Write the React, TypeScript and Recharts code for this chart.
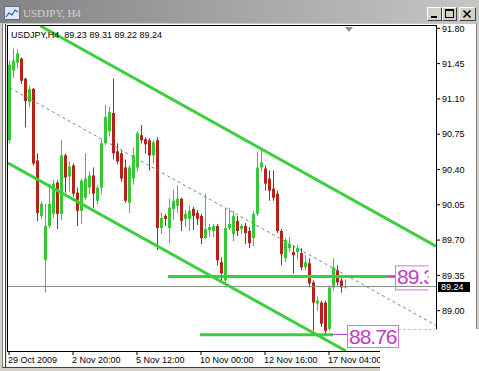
import React from 'react';
import { ComposedChart, Bar, XAxis, YAxis, ReferenceLine } from 'recharts';

const symbol = 'USDJPY';
const period = 'H4';

const opens = [90.69, 91.38, 91.46, 91.50, 91.30, 91.07, 91.20, 90.49, 89.94, 89.50,
  89.84, 89.96, 90.27, 89.96, 90.54, 90.33, 90.44, 90.17, 89.99, 90.12,
  90.22, 90.34, 90.09, 90.22, 90.66, 90.78, 90.96, 90.58, 90.56, 90.42,
  90.07, 90.31, 90.42, 90.74, 90.70, 90.69, 90.54, 90.69, 89.82, 89.94,
  89.82, 90.01, 90.04, 90.11, 89.91, 89.91, 90.01, 89.97, 89.94, 89.72,
  89.80, 89.79, 89.84, 89.48, 89.30, 89.82, 89.76, 89.89, 89.81, 89.84,
  89.79, 89.72, 89.96, 90.42, 90.41, 90.31, 90.21, 90.16, 89.79, 89.52,
  89.62, 89.58, 89.58, 89.57, 89.43, 89.47, 89.28, 89.07, 89.08, 89.08,
  88.82, 89.23, 89.40, 89.30, 89.23];
const highs = [91.48, 91.60, 91.59, 91.51, 91.31, 91.23, 91.21, 90.56, 90.08, 90.06,
  90.26, 90.30, 90.29, 90.69, 90.56, 90.48, 90.46, 90.22, 90.31, 90.56,
  90.38, 90.42, 90.25, 90.70, 91.04, 91.02, 91.30, 90.66, 90.59, 90.50,
  90.44, 90.62, 90.78, 90.84, 90.72, 90.71, 90.69, 90.72, 89.97, 89.96,
  90.11, 90.20, 90.24, 90.12, 90.00, 90.04, 90.03, 90.00, 89.96, 90.16,
  89.86, 89.86, 89.86, 89.53, 90.02, 90.02, 89.99, 89.94, 89.86, 89.87,
  89.83, 89.99, 90.57, 90.59, 90.44, 90.39, 90.39, 90.19, 89.81, 89.72,
  89.73, 89.65, 89.65, 89.62, 89.55, 89.52, 89.30, 89.14, 89.10, 89.10,
  89.25, 89.52, 89.45, 89.33, 89.31];
const lows = [90.66, 91.31, 91.40, 91.25, 90.82, 91.02, 90.44, 89.89, 89.91, 89.18,
  89.82, 89.92, 89.81, 89.90, 90.17, 90.18, 90.13, 89.84, 89.86, 90.10,
  90.16, 90.02, 90.05, 90.16, 90.64, 90.73, 90.50, 90.45, 90.28, 90.07,
  89.97, 90.25, 90.38, 90.66, 90.56, 90.39, 90.46, 89.60, 89.76, 89.84,
  89.67, 89.90, 89.97, 89.79, 89.83, 89.79, 89.80, 89.85, 89.66, 89.71,
  89.73, 89.73, 89.45, 89.28, 89.27, 89.80, 89.69, 89.74, 89.76, 89.66,
  89.62, 89.64, 89.94, 90.38, 90.19, 90.09, 90.09, 89.77, 89.45, 89.48,
  89.58, 89.37, 89.51, 89.40, 89.40, 89.23, 88.80, 89.00, 88.84, 88.76,
  88.80, 89.20, 89.25, 89.18, 89.22];
const closes = [91.44, 91.48, 91.55, 91.28, 91.08, 91.20, 90.46, 89.97, 90.06, 89.84,
  90.06, 90.26, 89.96, 90.54, 90.32, 90.43, 90.16, 89.99, 90.29, 90.31,
  90.34, 90.16, 90.22, 90.66, 90.92, 90.97, 90.56, 90.48, 90.31, 90.09,
  90.42, 90.54, 90.76, 90.69, 90.65, 90.54, 90.67, 89.82, 89.92, 89.91,
  90.02, 90.09, 90.11, 89.89, 89.96, 89.99, 89.94, 89.91, 89.72, 89.81,
  89.83, 89.84, 89.50, 89.37, 89.82, 89.86, 89.94, 89.79, 89.84, 89.77,
  89.67, 89.96, 90.42, 90.47, 90.26, 90.19, 90.12, 89.79, 89.56, 89.70,
  89.66, 89.55, 89.62, 89.43, 89.48, 89.27, 89.08, 89.10, 88.87, 88.80,
  89.23, 89.43, 89.28, 89.23, 89.24];

const timeTicks = [0, 16, 32, 48, 64, 80];
const timeLabels = ['29 Oct 2009', '2 Nov 20:00', '5 Nov 12:00', '10 Nov 00:00', '12 Nov 16:00', '17 Nov 04:00'];
const priceTicks = [91.8, 91.45, 91.1, 90.75, 90.4, 90.05, 89.7, 89.35, 89.0];
const bidPrice = 89.24;

const upperChannel = [{ x: 7.875, y: 91.823 }, { x: 106.75, y: 89.639 }];
const lowerChannel = [{ x: -0.25, y: 90.465 }, { x: 84.25, y: 88.6 }];
const midChannel = [{ x: 0.25, y: 91.208 }, { x: 106.75, y: 88.854 }];
const resistanceLevel = { price: 89.34, from: 39.75, to: 98.5, shown: '89.3' };
const supportLevel = { price: 88.76, from: 47.75, to: 81 };

const X_MIN = -0.25;
const X_MAX = 106.75;
const Y_MIN = 88.6;
const Y_MAX = 91.823;

const W = 479;
const H = 371;
const M_TOP = 26;
const M_LEFT = 8;
const Y_AXIS_W = 43;
const X_AXIS_H = 20;
const PLOT_W = W - M_LEFT - Y_AXIS_W;
const PLOT_H = H - M_TOP - X_AXIS_H;

const BULL = '#36c936';
const BEAR = '#b8201c';
const LINE = '#3ccf3c';
const PINK = '#c23cc2';
const FONT = '"Liberation Sans", Arial, sans-serif';

const data = opens.map((o, i) => ({
  i,
  o,
  h: highs[i],
  l: lows[i],
  c: closes[i],
  range: [lows[i], highs[i]],
}));

const last = data.length - 1;

const Candle = (props: any) => {
  const { x, y, width, height, payload } = props;
  if (x == null || y == null || !payload) return null;
  const { o, h, l, c } = payload;
  const top = Math.min(y, y + height);
  const hgt = Math.abs(height);
  const ppu = hgt / (h - l || 1);
  const cx = Math.round(x + width / 2);
  const bodyTop = top + (h - Math.max(o, c)) * ppu;
  const bodyH = Math.max(1, Math.abs(o - c) * ppu);
  const col = c >= o ? BULL : BEAR;
  return (
    <g>
      <rect x={cx} y={top} width={1} height={Math.max(1, hgt)} fill={col} />
      <rect x={cx - 1} y={bodyTop} width={3} height={bodyH} fill={col} />
    </g>
  );
};

const TimeTick = (props: any) => {
  const { x, y, payload } = props;
  const idx = timeTicks.indexOf(payload.value);
  return (
    <text x={x - 1} y={y} dy="0.71em" fontSize={9} fill="#000" fontFamily={FONT} textAnchor="start">
      {idx >= 0 ? timeLabels[idx] : ''}
    </text>
  );
};

const BidLabel = (props: any) => {
  const vb = props.viewBox;
  if (!vb) return null;
  const xr = vb.x + vb.width;
  const yc = vb.y;
  return (
    <g>
      <rect x={xr + 2} y={yc - 4.5} width={32} height={10} fill="#000" />
      <text x={xr + 5} y={yc + 4} fontSize={9} fill="#fff" fontFamily={FONT}>
        {bidPrice.toFixed(2)}
      </text>
    </g>
  );
};

const ResistanceLabel = (props: any) => {
  const vb = props.viewBox;
  if (!vb) return null;
  const xr = vb.x + vb.width;
  const yc = vb.y;
  return (
    <g>
      <defs>
        <clipPath id="res-clip">
          <rect x={xr} y={yc - 14} width={33.5} height={30} />
        </clipPath>
      </defs>
      <line x1={xr - 8} y1={yc} x2={xr} y2={yc} stroke={PINK} strokeWidth={1} />
      <g clipPath="url(#res-clip)">
        <rect x={xr + 0.5} y={yc - 10.5} width={48} height={24} fill="none" stroke="#d27ad2" />
        <text x={xr + 2} y={yc + 8} fontSize={21} letterSpacing={-1} fill={PINK} fontFamily={FONT}>
          {resistanceLevel.shown}
        </text>
      </g>
    </g>
  );
};

const pxX = (i: number) => M_LEFT + ((i - X_MIN) / (X_MAX - X_MIN)) * PLOT_W;
const pxY = (p: number) => M_TOP + ((Y_MAX - p) / (Y_MAX - Y_MIN)) * PLOT_H;

const abs = (s: React.CSSProperties): React.CSSProperties => ({ position: 'absolute', boxSizing: 'border-box', ...s });

const WinButton = ({ left, width, kind }: { left: number; width: number; kind: string }) => (
  <div
    style={abs({
      left,
      top: 7,
      width,
      height: 14,
      background: '#d4d0c8',
      borderStyle: 'solid',
      borderWidth: 1,
      borderColor: '#ffffff #404040 #404040 #ffffff',
    })}
  >
    <svg width={width - 2} height={12} style={{ position: 'absolute', left: 0, top: 0 }}>
      {kind === 'min' && <rect x={3} y={8} width={6} height={2} fill="#000" />}
      {kind === 'max' && (
        <g>
          <rect x={2.5} y={1.5} width={8} height={8} fill="none" stroke="#000" />
          <rect x={2} y={1} width={9} height={2} fill="#000" />
        </g>
      )}
      {kind === 'close' && (
        <g stroke="#000" strokeWidth={1.6}>
          <line x1={3.5} y1={2.5} x2={10.5} y2={9.5} />
          <line x1={10.5} y1={2.5} x2={3.5} y2={9.5} />
        </g>
      )}
    </svg>
  </div>
);

export default function App() {
  const supY = pxY(supportLevel.price);
  const supX = pxX(supportLevel.to);
  return (
    <div style={abs({ left: 0, top: 0, width: W, height: H, background: '#d4d0c8', overflow: 'hidden', fontFamily: FONT })}>
      {/* title bar */}
      <div style={abs({ left: 0, top: 0, width: W, height: 23, background: 'linear-gradient(90deg, #838383 0%, #a9a9a9 55%, #c6c6c6 100%)' })} />
      <div style={abs({ left: 4, top: 6, width: 16, height: 14, background: '#dfe8f4', border: '1px solid #5a6f93' })}>
        <svg width={14} height={12} style={{ position: 'absolute', left: 0, top: 0 }}>
          <polyline points="1,10 4,6 7,8 10,3 13,5" fill="none" stroke="#2a58b0" strokeWidth={1.2} />
        </svg>
      </div>
      <div style={abs({ left: 23, top: 6, height: 14, lineHeight: '14px', fontSize: 11, color: '#d6d3cc', fontFamily: '"Liberation Serif", serif', whiteSpace: 'pre' })}>
        {`${symbol}, ${period}`}
      </div>
      <WinButton left={427} width={15} kind="min" />
      <WinButton left={442} width={15} kind="max" />
      <WinButton left={459} width={17} kind="close" />
      {/* client area */}
      <div style={abs({ left: 2, top: 23, width: 475, height: 345, background: '#ffffff', borderLeft: '1px solid #808080', borderTop: '1px solid #c8c8c8', borderRight: '1px solid #808080', borderBottom: '1px solid #404040' })} />
      <div style={abs({ left: 5, top: 24, width: 2, height: 343, background: '#e0e0e0', borderLeft: '1px solid #404040' })} />
      {/* plot border */}
      <div style={abs({ left: 7, top: 25, width: 430, height: 327, border: '1px solid #000' })} />
      <div style={abs({ left: 0, top: 0 })}>
        <ComposedChart width={W} height={H} data={data} margin={{ top: M_TOP, right: 0, bottom: 0, left: M_LEFT }}>
          <XAxis
            type="number"
            dataKey="i"
            domain={[X_MIN, X_MAX]}
            allowDataOverflow
            ticks={timeTicks}
            tick={<TimeTick />}
            tickSize={4}
            tickMargin={2}
            tickLine={{ stroke: '#000' }}
            axisLine={false}
            height={X_AXIS_H}
            interval={0}
          />
          <YAxis
            orientation="right"
            type="number"
            domain={[Y_MIN, Y_MAX]}
            allowDataOverflow
            ticks={priceTicks}
            tickFormatter={(v: number) => v.toFixed(2)}
            tick={{ fontSize: 9, fill: '#000', fontFamily: FONT }}
            tickSize={4}
            tickMargin={2}
            tickLine={{ stroke: '#000' }}
            axisLine={false}
            width={Y_AXIS_W}
            interval={0}
          />
          <ReferenceLine y={bidPrice} stroke="#8c8c8c" strokeWidth={1} label={<BidLabel />} />
          <Bar dataKey="range" barSize={3} shape={<Candle />} isAnimationActive={false} />
          <ReferenceLine segment={midChannel} stroke="#5e9e5e" strokeWidth={1} strokeDasharray="3 3" ifOverflow="hidden" />
          <ReferenceLine segment={upperChannel} stroke={LINE} strokeWidth={3} ifOverflow="hidden" />
          <ReferenceLine segment={lowerChannel} stroke={LINE} strokeWidth={3} ifOverflow="hidden" />
          <ReferenceLine
            segment={[{ x: resistanceLevel.from, y: resistanceLevel.price }, { x: resistanceLevel.to - 2, y: resistanceLevel.price }]}
            stroke={LINE}
            strokeWidth={3}
            label={<ResistanceLabel />}
          />
          <ReferenceLine
            segment={[{ x: supportLevel.from, y: supportLevel.price }, { x: supportLevel.to, y: supportLevel.price }]}
            stroke={LINE}
            strokeWidth={3}
          />
        </ComposedChart>
      </div>
      {/* header text */}
      <div style={abs({ left: 11, top: 30, height: 10, lineHeight: '10px', fontSize: 9, color: '#000', whiteSpace: 'pre' })}>
        {`${symbol},${period}  ${opens[last].toFixed(2)} ${highs[last].toFixed(2)} ${lows[last].toFixed(2)} ${closes[last].toFixed(2)}`}
      </div>
      {/* chart shift marker */}
      <div style={abs({ left: 345, top: 27, width: 0, height: 0, borderLeft: '4px solid transparent', borderRight: '4px solid transparent', borderTop: '5px solid #8f8f8f' })} />
      {/* pasted white patch */}
      <div style={abs({ left: 380, top: 329, width: 99, height: 42, background: '#ffffff' })} />
      <div style={abs({ left: 398, top: 329, width: 39, height: 1, borderTop: '1px dashed #dcb4dc' })} />
      {/* support label */}
      <div style={abs({ left: supX, top: supY - 0.5, width: 14, height: 1, background: PINK })} />
      <div style={abs({ left: supX + 14, top: supY - 10, width: 52, height: 23, border: '1px solid #d27ad2', background: 'transparent' })}>
        <div style={abs({ left: 1, top: 0, height: 21, lineHeight: '21px', fontSize: 21, letterSpacing: -1, color: PINK, whiteSpace: 'pre' })}>
          {supportLevel.price.toFixed(2)}
        </div>
      </div>
    </div>
  );
}
